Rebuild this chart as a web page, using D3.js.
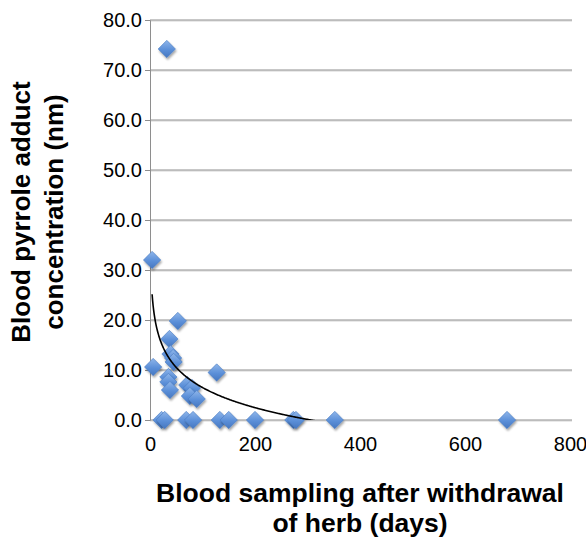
<!DOCTYPE html>
<html>
<head>
<meta charset="utf-8">
<script src="https://cdn.jsdelivr.net/npm/d3@7"></script>
<style>
	body { margin: 0; background: #fff; }
	text { font-family: "Liberation Sans", Arial, Helvetica, sans-serif; fill: #000; }
</style>
</head>
<body>
<svg id="chart"></svg>
<script>
// days after withdrawal of herb / blood pyrrole adduct concentration (nm)
var days = [32, 4, 53, 37, 39, 44, 45, 6, 127, 35, 35, 38, 71, 80, 76, 89,
	22, 28, 69, 82, 133, 150, 200, 273, 278, 352, 680];
var concentration = [74.2, 32.0, 19.8, 16.2, 13.2, 12.4, 11.6, 10.6, 9.5, 8.6, 7.6, 6.0, 7.0, 6.4, 4.8, 4.2,
	0, 0, 0, 0, 0, 0, 0, 0, 0, 0, 0];

var xTicks = [0, 200, 400, 600, 800];
var yTicks = [0, 10, 20, 30, 40, 50, 60, 70, 80];

// logarithmic trendline y = a*ln(x) + b
var trendA = -5.8;
var trendB = 33.2;

var yTitle = ["Blood pyrrole adduct", "concentration (nm)"];
var xTitle = ["Blood sampling after withdrawal", "of herb (days)"];

var width = 586, height = 539;
var margin = { top: 20, right: 16, bottom: 119, left: 150 };

var svg = d3.select("#chart")
	.attr("width", width)
	.attr("height", height);

var defs = svg.append("defs");
var grad = defs.append("linearGradient")
	.attr("id", "markerFill")
	.attr("x1", 0).attr("y1", 0).attr("x2", 0).attr("y2", 1);
grad.append("stop").attr("offset", "0%").attr("stop-color", "#8fb6ea");
grad.append("stop").attr("offset", "55%").attr("stop-color", "#5b8fd8");
grad.append("stop").attr("offset", "100%").attr("stop-color", "#4677c0");

var shadow = defs.append("filter")
	.attr("id", "shadow")
	.attr("x", "-50%").attr("y", "-50%").attr("width", "200%").attr("height", "200%");
shadow.append("feDropShadow")
	.attr("dx", 1).attr("dy", 2).attr("stdDeviation", 1.3)
	.attr("flood-color", "#000").attr("flood-opacity", 0.35);

defs.append("clipPath").attr("id", "plotClip")
	.append("rect")
	.attr("x", margin.left).attr("y", margin.top)
	.attr("width", width - margin.left - margin.right)
	.attr("height", height - margin.top - margin.bottom);

var xScale = d3.scaleLinear().domain([0, 800]).range([margin.left, width - margin.right]);
var yScale = d3.scaleLinear().domain([0, 80]).range([height - margin.bottom, margin.top]);

// gridlines
var grid = svg.append("g").attr("class", "grid");
grid.selectAll(".gridShade")
	.data(yTicks)
	.enter()
	.append("line")
	.attr("class", "gridShade")
	.attr("x1", margin.left).attr("x2", width - margin.right + 2)
	.attr("y1", function(d) { return yScale(d) + 1; })
	.attr("y2", function(d) { return yScale(d) + 1; })
	.attr("stroke", "#d4d4d4")
	.attr("stroke-width", 1);
grid.selectAll(".gridLine")
	.data(yTicks)
	.enter()
	.append("line")
	.attr("class", "gridLine")
	.attr("x1", margin.left).attr("x2", width - margin.right + 2)
	.attr("y1", function(d) { return yScale(d); })
	.attr("y2", function(d) { return yScale(d); })
	.attr("stroke", "#8e8e8e")
	.attr("stroke-width", 1);

// y axis
var yAxis = svg.append("g")
	.attr("class", "yAxis")
	.attr("transform", "translate(" + margin.left + ",0)")
	.call(d3.axisLeft(yScale)
		.tickValues(yTicks)
		.tickSize(5)
		.tickPadding(3)
		.tickFormat(d3.format(".1f")));
yAxis.select(".domain").attr("stroke", "#8e8e8e");
yAxis.selectAll(".tick line").attr("stroke", "#8e8e8e");
yAxis.selectAll(".tick text")
	.attr("font-size", "20px")
	.attr("font-family", "'Liberation Sans', Arial, sans-serif")
	.attr("fill", "#000");

// x axis (labels only, the 0 gridline is the axis)
var xAxis = svg.append("g")
	.attr("class", "xAxis")
	.attr("transform", "translate(0," + yScale(0) + ")")
	.call(d3.axisBottom(xScale)
		.tickValues(xTicks)
		.tickSize(0)
		.tickPadding(17)
		.tickFormat(d3.format("d")));
xAxis.select(".domain").remove();
xAxis.selectAll(".tick text")
	.attr("font-size", "20px")
	.attr("font-family", "'Liberation Sans', Arial, sans-serif")
	.attr("fill", "#000");

// points
var diamond = {
	draw: function(context, size) {
		var r = Math.sqrt(size / 2);
		context.moveTo(0, -r);
		context.lineTo(r, 0);
		context.lineTo(0, r);
		context.lineTo(-r, 0);
		context.closePath();
	}
};

var points = days.map(function(d, i) { return { day: d, value: concentration[i] }; });

svg.append("g")
	.attr("class", "points")
	.selectAll("path")
	.data(points)
	.enter()
	.append("path")
	.attr("d", d3.symbol().type(diamond).size(150))
	.attr("transform", function(d) { return "translate(" + xScale(d.day) + "," + yScale(d.value) + ")"; })
	.attr("fill", "url(#markerFill)")
	.attr("stroke", "#4a7cc2")
	.attr("stroke-width", 0.6)
	.attr("filter", "url(#shadow)");

// trendline over the data range, clipped to the plot
var trendDays = d3.range(d3.min(days), d3.max(days), 1);
var trendLine = d3.line()
	.x(function(d) { return xScale(d); })
	.y(function(d) { return yScale(trendA * Math.log(d) + trendB); });
svg.append("path")
	.datum(trendDays)
	.attr("clip-path", "url(#plotClip)")
	.attr("d", trendLine)
	.attr("fill", "none")
	.attr("stroke", "#000")
	.attr("stroke-width", 1.6);

// axis titles
var yCenter = 212;
svg.append("g")
	.selectAll("text")
	.data(yTitle)
	.enter()
	.append("text")
	.attr("transform", function(d, i) { return "translate(" + (30 + i * 33) + "," + yCenter + ") rotate(-90)"; })
	.attr("text-anchor", "middle")
	.attr("font-size", "26px")
	.attr("font-weight", "bold")
	.text(function(d) { return d; });

svg.append("g")
	.selectAll("text")
	.data(xTitle)
	.enter()
	.append("text")
	.attr("x", (xScale(0) + xScale(800)) / 2)
	.attr("y", function(d, i) { return 502 + i * 30; })
	.attr("text-anchor", "middle")
	.attr("font-size", "26.5px")
	.attr("font-weight", "bold")
	.text(function(d) { return d; });
</script>
</body>
</html>
